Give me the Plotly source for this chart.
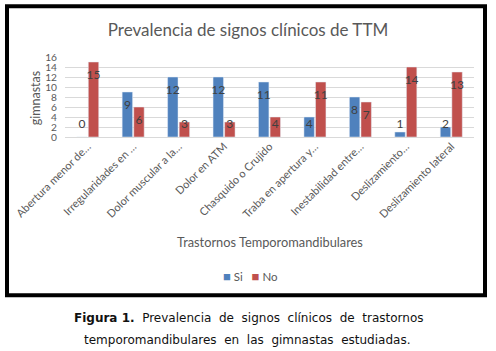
import plotly.graph_objects as go

categories = [
    "Abertura menor de…",
    "Irregularidades en …",
    "Dolor muscular a la…",
    "Dolor en ATM",
    "Chasquido o Crujido",
    "Traba en apertura y…",
    "Inestabilidad entre…",
    "Deslizamiento…",
    "Deslizamiento lateral",
]
si_values = [0, 9, 12, 12, 11, 4, 8, 1, 2]
no_values = [15, 6, 3, 3, 4, 11, 7, 14, 13]
y_ticks = [0, 2, 4, 6, 8, 10, 12, 14, 16]

W, H = 496, 351
L, R, T, B = 65, 474, 56.7, 136.7  # plot area in pixels

def px_x(p):
    return (p - L) / (R - L)

def px_y(p):
    return (B - p) / (B - T)

BLUE = "#4F81BD"
RED = "#C0504D"
GREY = "#595959"
LABEL = "#404040"
FONT = "Lato"

idx = list(range(len(categories)))
bargap = 0.49
groupgap = 0.1
slot = (1 - bargap) / 2
off = slot / 2

fig = go.Figure()
fig.add_trace(go.Bar(x=idx, y=si_values, name="Si", marker_color=BLUE))
fig.add_trace(go.Bar(x=idx, y=no_values, name="No", marker_color=RED))

def label_y(v):
    return max(v - 2.7, 2.5)

fig.add_trace(go.Scatter(
    x=[i - off for i in idx], y=[label_y(v) for v in si_values],
    text=[str(v) for v in si_values], mode="text",
    textfont=dict(family=FONT, size=12, color=LABEL),
    showlegend=False, hoverinfo="skip"))
fig.add_trace(go.Scatter(
    x=[i + off for i in idx], y=[label_y(v) for v in no_values],
    text=[str(v) for v in no_values], mode="text",
    textfont=dict(family=FONT, size=12, color=LABEL),
    showlegend=False, hoverinfo="skip"))

fig.update_layout(
    width=W, height=H,
    margin=dict(l=L, r=W - R, t=T, b=H - B, autoexpand=False),
    paper_bgcolor="white", plot_bgcolor="white",
    barmode="group", bargap=bargap, bargroupgap=groupgap,
    font=dict(family=FONT, color=GREY),
    title=dict(text="Prevalencia de signos clínicos de TTM",
               x=0.5, xref="container", xanchor="center",
               y=1 - 30 / H, yref="container", yanchor="middle",
               font=dict(family=FONT, size=17, color=GREY)),
    showlegend=False,
)

fig.update_xaxes(
    range=[-0.5, len(categories) - 0.5],
    tickmode="array", tickvals=idx, ticktext=categories,
    tickangle=-45, tickfont=dict(family=FONT, size=11, color=GREY),
    showgrid=False, showline=False, zeroline=False, ticks="",
    automargin=False,
)
fig.update_yaxes(
    range=[0, 16], tickmode="array", tickvals=y_ticks,
    tickfont=dict(family=FONT, size=10.2, color=GREY),
    showgrid=True, gridcolor="#D9D9D9", gridwidth=1,
    zeroline=True, zerolinecolor="#D9D9D9", zerolinewidth=1,
    showline=False, ticks="outside", ticklen=5, tickcolor="rgba(0,0,0,0)",
    automargin=False,
)

legend_text = (f'<span style="color:{BLUE};font-size:13px">■</span> Si&nbsp;&nbsp; '
               f'<span style="color:{RED};font-size:13px">■</span> No')
sp = "&nbsp;"
cap1 = (f"<b>Figura{sp}1.</b>{sp} Prevalencia{sp} de{sp} signos{sp} clínicos"
        f"{sp} de{sp} trastornos")
cap2 = f"temporomandibulares{sp} en{sp} las{sp} gimnastas{sp} estudiadas."

annotations = [
    dict(text="gimnastas", x=px_x(35), y=px_y(98), xref="paper", yref="paper",
         textangle=-90, showarrow=False, xanchor="center", yanchor="middle",
         font=dict(family=FONT, size=12.5, color=GREY)),
    dict(text="Trastornos Temporomandibulares", x=px_x(270), y=px_y(242),
         xref="paper", yref="paper", showarrow=False,
         xanchor="center", yanchor="middle",
         font=dict(family=FONT, size=12.8, color=GREY)),
    dict(text=legend_text, x=px_x(250), y=px_y(276), xref="paper", yref="paper",
         showarrow=False, xanchor="center", yanchor="middle",
         font=dict(family=FONT, size=11.5, color=GREY)),
    dict(text=cap1,
         x=px_x(248), y=px_y(318), xref="paper", yref="paper", showarrow=False,
         xanchor="center", yanchor="middle",
         font=dict(family="DejaVu Sans", size=12, color="#111111")),
    dict(text=cap2,
         x=px_x(247), y=px_y(340), xref="paper", yref="paper", showarrow=False,
         xanchor="center", yanchor="middle",
         font=dict(family="DejaVu Sans", size=12, color="#111111")),
]
fig.update_layout(annotations=annotations)

fig.add_shape(type="rect", xref="paper", yref="paper",
              x0=px_x(7), x1=px_x(485), y0=px_y(295), y1=px_y(6),
              line=dict(color="black", width=4), fillcolor="rgba(0,0,0,0)",
              layer="above")

fig.write_html("out.html")
